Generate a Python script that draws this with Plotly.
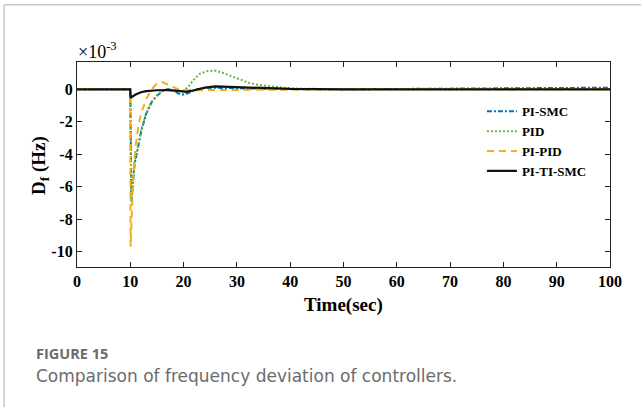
import plotly.graph_objects as go

# ---------------- data (values in units of 1e-3 Hz) ----------------
t_pismc = [0, 9.99, 10.2, 10.5, 10.8, 11.5, 12.1, 13, 14, 15, 16, 17, 18, 19, 19.7, 20.5, 21.5,
           22.5, 24, 26, 30, 35, 40, 50, 60, 70, 80, 90, 100]
y_pismc = [0, 0, -6.9, -5.6, -4.6, -3.5, -2.5, -1.5, -0.8, -0.4, -0.12, 0.02, -0.05, -0.25, -0.33,
           -0.28, -0.12, 0.0, 0.08, 0.1, 0.06, 0.03, 0.01, 0, 0.01, 0.03, 0.06, 0.08, 0.1]

t_pid = [0, 9.99, 10.2, 10.5, 10.8, 11.5, 12.1, 13, 14, 15, 16, 17, 18, 19, 20, 20.8, 21.8, 23,
         24.5, 25.8, 27, 28.6, 30.5, 32.4, 34, 36, 39, 42, 50, 100]
y_pid = [0, 0, -6.8, -5.5, -4.5, -3.4, -2.45, -1.45, -0.75, -0.35, -0.1, 0.0, -0.05, -0.1, -0.08,
         0.12, 0.55, 0.95, 1.12, 1.15, 1.06, 0.86, 0.58, 0.38, 0.27, 0.18, 0.09, 0.04, 0, 0]

t_pipid = [0, 9.99, 10.05, 10.3, 10.6, 11, 11.5, 12, 13, 14, 15, 16, 17, 18, 19, 20, 22, 25, 30,
           35, 40, 50, 100]
y_pipid = [0, 0, -9.7, -7.0, -5.0, -3.5, -2.3, -1.5, -0.6, 0.0, 0.35, 0.45, 0.3, 0.1, 0.0, -0.06,
           -0.06, -0.06, -0.06, -0.04, -0.02, 0, 0]

t_pitismc = [0, 9.99, 10.05, 10.5, 11, 12, 13, 15, 17, 19, 20.5, 22, 24, 26, 28, 32, 36, 40, 50, 100]
y_pitismc = [0, 0, -0.52, -0.42, -0.32, -0.18, -0.11, -0.06, -0.05, -0.1, -0.16, -0.06, 0.1, 0.18,
             0.16, 0.1, 0.05, 0.02, 0, 0]

x_ticks = [0, 10, 20, 30, 40, 50, 60, 70, 80, 90, 100]
y_ticks = [0, -2, -4, -6, -8, -10]
y_ticktext = ["0", "-2", "-4", "-6", "-8", "-10"]

# ---------------- layout geometry ----------------
W, H = 641, 407
L, R, T, B = 77.3, 610.0, 61.7, 266.7

def px(x):
    return (x - L) / (R - L)

def py(y):
    return (B - y) / (B - T)

SERIF = "Liberation Serif"

fig = go.Figure()
fig.add_trace(go.Scatter(x=t_pismc, y=y_pismc, mode="lines", name="PI-SMC",
                         line=dict(color="#0072BD", width=2, dash="5px,2px,2px,2px")))
fig.add_trace(go.Scatter(x=t_pid, y=y_pid, mode="lines", name="PID",
                         line=dict(color="#6DB33F", width=2, dash="2px,2px")))
fig.add_trace(go.Scatter(x=t_pipid, y=y_pipid, mode="lines", name="PI-PID",
                         line=dict(color="#F2B01E", width=2, dash="7px,5px")))
fig.add_trace(go.Scatter(x=t_pitismc, y=y_pitismc, mode="lines", name="PI-TI-SMC",
                         line=dict(color="#111111", width=2.2)))

axis_common = dict(showline=True, linecolor="#222", linewidth=1.2, mirror="ticks",
                   ticks="inside", ticklen=5, tickwidth=1.2, tickcolor="#222",
                   showgrid=False, zeroline=False,
                   tickfont=dict(family=SERIF, size=16, color="black", weight="bold"))

fig.update_xaxes(range=[0, 100], tickvals=x_ticks, **axis_common)
fig.update_yaxes(range=[-10.94, 1.68], tickvals=y_ticks, ticktext=y_ticktext, **axis_common)

annotations = [
    dict(text="<b>Time(sec)</b>", x=0.5, y=py(305), xref="paper", yref="paper",
         xanchor="center", yanchor="middle", showarrow=False,
         font=dict(family=SERIF, size=19, color="black")),
    dict(text="<b>D<sub>f</sub> (Hz)</b>", x=px(41), y=py(165), xref="paper", yref="paper",
         xanchor="center", yanchor="middle", showarrow=False, textangle=-90,
         font=dict(family=SERIF, size=19, color="black")),
    dict(text="×10<sup>-3</sup>", x=px(76), y=py(50), xref="paper", yref="paper",
         xanchor="left", yanchor="middle", showarrow=False,
         font=dict(family=SERIF, size=18, color="black")),
    dict(text="<b>FIGURE 15</b>", x=px(34), y=py(353), xref="paper", yref="paper",
         xanchor="left", yanchor="middle", showarrow=False,
         font=dict(family="Open Sans", size=14.5, color="#6b6b6b")),
    dict(text="Comparison of frequency deviation of controllers.", x=px(34), y=py(376),
         xref="paper", yref="paper", xanchor="left", yanchor="middle", showarrow=False,
         font=dict(family="DejaVu Sans", size=17, color="#6b6b6b")),
]

shapes = [
    dict(type="line", xref="paper", yref="paper", x0=px(4.5), x1=px(W + 5), y0=py(4.5), y1=py(4.5),
         line=dict(color="#c8c8c8", width=1.5)),
    dict(type="line", xref="paper", yref="paper", x0=px(4.5), x1=px(4.5), y0=py(4.5), y1=py(H + 5),
         line=dict(color="#c8c8c8", width=1.5)),
]

fig.update_layout(
    width=W, height=H,
    margin=dict(l=L, r=W - R, t=T, b=H - B, pad=0),
    paper_bgcolor="white", plot_bgcolor="white",
    showlegend=True,
    legend=dict(x=px(482), y=py(96), xanchor="left", yanchor="top",
                bgcolor="rgba(0,0,0,0)", borderwidth=0, itemwidth=30,
                tracegroupgap=0,
                font=dict(family=SERIF, size=13, color="black", weight="bold")),
    annotations=annotations,
    shapes=shapes,
)

fig.write_html("out.html")
